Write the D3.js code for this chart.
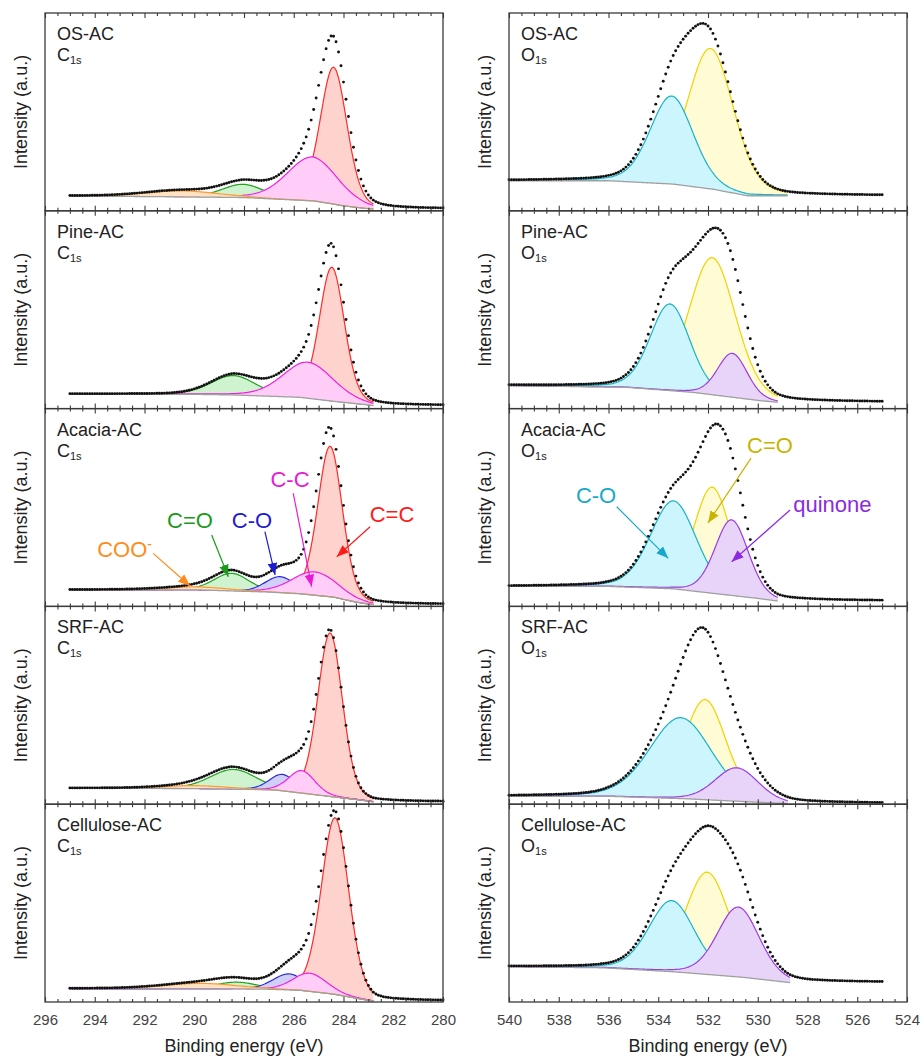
<!DOCTYPE html>
<html>
<head>
<meta charset="utf-8">
<script src="https://cdn.jsdelivr.net/npm/d3@7"></script>
<style>
  body { margin: 0; background: #fff; }
  text { font-family: Arial, "Liberation Sans", sans-serif; }
</style>
</head>
<body>
<svg id="chart" width="921" height="1057"></svg>
<script>
// samples, one row of panels each
const samples = ['OS-AC', 'Pine-AC', 'Acacia-AC', 'SRF-AC', 'Cellulose-AC'];

// C1s fit components, columns: C=C, C-C, C-O, C=O, COO-
// height in % of panel height above the background, fwhm in eV
const c1sNames = ['C=C', 'C-C', 'C-O', 'C=O', 'COO-'];
const c1sCenter = [
  [284.40, 285.25, null,   288.03, 290.50],
  [284.47, 285.42, null,   288.43, null],
  [284.54, 285.15, 286.55, 288.50, 289.80],
  [284.54, 285.68, 286.45, 288.43, 290.00],
  [284.34, 285.35, 286.20, 288.30, 289.77]
];
const c1sHeight = [
  [69.2, 22.2, null, 6.7, 3.0],
  [67.7, 18.2, null, 9.8, null],
  [76.1, 11.8, 8.1,  8.9, 1.5],
  [82.7, 11.4, 8.3,  9.9, 1.5],
  [89.3,  9.2, 8.1,  3.4, 2.7]
];
const c1sFwhm = [
  [1.27, 2.40, null, 2.00, 3.5],
  [1.19, 2.40, null, 2.14, null],
  [1.17, 2.14, 1.40, 1.68, 3.0],
  [1.17, 1.25, 1.25, 2.20, 3.0],
  [1.30, 1.60, 1.50, 2.00, 3.5]
];
// Shirley background knots [eV, %]
const c1sBackground = [
  [[295, 7.5], [290, 7.0], [288, 6.7], [285.2, 5.0], [284.4, 3.4], [284, 2.5], [283.1, 1.2], [282.8, 0.9]],
  [[295, 7.4], [290, 7.2], [288.4, 6.9], [285.75, 5.7], [284.4, 3.7], [283.1, 2.0], [282.8, 1.5]],
  [[295, 8.4], [290, 8.4], [287.1, 7.3], [285.75, 6.4], [284.4, 4.7], [283.5, 2.2], [283, 1.2], [282.8, 1.0]],
  [[295, 8.1], [290, 7.9], [288, 7.6], [286.7, 7.1], [284.4, 3.7], [283.07, 1.7], [282.8, 1.2]],
  [[295, 6.8], [289, 6.7], [287.1, 6.5], [285.75, 5.9], [284.4, 4.0], [283.07, 1.0], [282.8, 0.5]]
];

// O1s fit components, columns: C-O, C=O, quinone
const o1sNames = ['C-O', 'C=O', 'quinone'];
const o1sCenter = [
  [533.46, 531.90, null],
  [533.53, 531.83, 531.02],
  [533.39, 531.83, 531.05],
  [533.10, 532.12, 530.85],
  [533.46, 532.03, 530.78]
];
const o1sHeight = [
  [44.5, 71.0, null],
  [43.8, 69.3, 22.2],
  [44.5, 53.6, 38.2],
  [40.9, 50.6, 16.9],
  [35.9, 51.7, 35.3]
];
const o1sFwhm = [
  [2.05, 2.20, null],
  [1.88, 2.20, 1.41],
  [2.18, 1.75, 1.58],
  [2.95, 2.00, 2.05],
  [2.18, 2.10, 1.98]
];
const o1sBackground = [
  [[540, 15.2], [536, 15.2], [533.4, 13.5], [531.8, 10.9], [530.4, 7.6], [528.8, 7.6]],
  [[540, 11.6], [535.3, 10.8], [532.6, 8.2], [529.9, 4.0], [529.2, 3.2]],
  [[540, 10.1], [536, 10.1], [533.4, 8.9], [529.9, 3.9], [529.2, 2.7]],
  [[540, 4.0], [536, 4.0], [533, 2.8], [530, 1.0], [528.8, 0.3]],
  [[540, 17.8], [536.2, 17.3], [533.4, 15.3], [530.6, 12.5], [528.7, 9.8]]
];

const c1sTicks = [296, 294, 292, 290, 288, 286, 284, 282, 280];
const o1sTicks = [540, 538, 536, 534, 532, 530, 528, 526, 524];

// ---- styles / layout ----
const lineColor = {
  'C=C': '#ff2a2a', 'C-C': '#f020e0', 'C-O': '#2a2ae0', 'C=O': '#22a022', 'COO-': '#ff9a30'
};
const fillColor = {
  'C=C': '#ffd3cd', 'C-C': '#ffcdf8', 'C-O': '#cfcff8', 'C=O': '#cff2cf', 'COO-': '#ffe2c2'
};
const o1sLine = { 'C-O': '#18b2cc', 'C=O': '#f2d200', 'quinone': '#9a3de0' };
const o1sFill = { 'C-O': '#cdf5fd', 'C=O': '#fffbd5', 'quinone': '#e8d4f9' };

const lorentzMix = 0.2;
const panelTop = 13, panelH = 197.8;

const cols = [
  { core: 'C', left: 45, right: 443, domain: [296, 280], data: [295, 280], ticks: c1sTicks,
    names: c1sNames, center: c1sCenter, height: c1sHeight, fwhm: c1sFwhm, bg: c1sBackground,
    order: [0, 3, 2, 1, 4], line: lineColor, fill: fillColor, ylabX: 27 },
  { core: 'O', left: 509, right: 907, domain: [540, 524], data: [540, 525], ticks: o1sTicks,
    names: o1sNames, center: o1sCenter, height: o1sHeight, fwhm: o1sFwhm, bg: o1sBackground,
    order: [1, 0, 2], line: o1sLine, fill: o1sFill, ylabX: 491 }
];

// arrow labels on the Acacia-AC panels, in data coordinates (eV, %)
const notes = [
  [
    { text: 'COO', sup: '-', color: '#ff8c1a', at: [292.8, 25.1], from: [291.65, 26.8], to: [290.17, 10.3] },
    { text: 'C=O', color: '#1a9a1a', at: [290.17, 39.6], from: [289.3, 36.1], to: [288.63, 15.0] },
    { text: 'C-O', color: '#1c1cd0', at: [287.68, 39.6], from: [287.16, 37.8], to: [286.75, 15.9] },
    { text: 'C-C', color: '#e81ad8', at: [286.15, 60.4], from: [286.02, 57.2], to: [285.28, 10.0] },
    { text: 'C=C', color: '#ff1a1a', at: [282.05, 42.7], from: [282.93, 40.3], to: [284.27, 25.1] }
  ],
  [
    { text: 'C=O', color: '#c8b400', at: [529.51, 77.4], from: [530.27, 75.0], to: [532.0, 42.2] },
    { text: 'C-O', color: '#16a8c8', at: [536.5, 52.3], from: [535.67, 50.4], to: [533.6, 24.3] },
    { text: 'quinone', color: '#8a2be2', at: [527.0, 47.7], from: [528.7, 48.7], to: [531.05, 22.6] }
  ]
];

function peak(E, c, h, w) {
  const t = (E - c) / w;
  return h * ((1 - lorentzMix) * Math.exp(-4 * Math.LN2 * t * t) + lorentzMix / (1 + 4 * t * t));
}

const svg = d3.select('#chart');
svg.append('rect').attr('width', 921).attr('height', 1057).attr('fill', '#fff');
const defs = svg.append('defs');

function marker(color) {
  const id = 'arr' + color.slice(1);
  if (defs.select('#' + id).empty()) {
    defs.append('marker')
      .attr('id', id).attr('viewBox', '0 0 10 8')
      .attr('refX', 10).attr('refY', 4)
      .attr('markerUnits', 'userSpaceOnUse')
      .attr('markerWidth', 12).attr('markerHeight', 10)
      .attr('orient', 'auto')
      .append('path').attr('d', 'M0,0L10,4L0,8Z').attr('fill', color);
  }
  return 'url(#' + id + ')';
}

cols.forEach((col, ci) => {
  const x = d3.scaleLinear().domain(col.domain).range([col.left, col.right]);

  samples.forEach((name, i) => {
    const top = panelTop + i * panelH, bottom = top + panelH;
    const y = d3.scaleLinear().domain([0, 100]).range([bottom, top]);
    const g = svg.append('g');

    const knots = col.bg[i];
    const bgAt = d3.scaleLinear()
      .domain(knots.map(k => k[0])).range(knots.map(k => k[1])).clamp(true);
    const e0 = knots[0][0], e1 = knots[knots.length - 1][0];
    const fitE = d3.range(e0, e1, -0.05).concat([e1]);

    const comps = col.order.filter(k => col.center[i][k] != null);

    comps.forEach(k => {
      const c = col.center[i][k], h = col.height[i][k], w = col.fwhm[i][k];
      const nm = col.names[k];
      g.append('path')
        .datum(fitE)
        .attr('fill', col.fill[nm])
        .attr('d', d3.area()
          .x(e => x(e))
          .y0(e => y(bgAt(e)))
          .y1(e => y(bgAt(e) + peak(e, c, h, w))));
      g.append('path')
        .datum(fitE)
        .attr('fill', 'none')
        .attr('stroke', col.line[nm])
        .attr('stroke-width', 1.2)
        .attr('d', d3.line()
          .x(e => x(e))
          .y(e => y(bgAt(e) + peak(e, c, h, w))));
    });

    g.append('path')
      .datum(fitE)
      .attr('fill', 'none')
      .attr('stroke', '#a0a0a0')
      .attr('stroke-width', 1.3)
      .attr('d', d3.line().x(e => x(e)).y(e => y(bgAt(e))));

    // measured spectrum
    const dataE = d3.range(col.data[0], col.data[1] - 0.001, -0.1);
    const envelope = e => bgAt(e) + d3.sum(comps, k =>
      peak(e, col.center[i][k], col.height[i][k], col.fwhm[i][k]));
    g.selectAll('circle.pt')
      .data(dataE)
      .enter()
      .append('circle')
      .attr('cx', e => x(e))
      .attr('cy', e => y(envelope(e)))
      .attr('r', 1.45)
      .attr('fill', '#111');

    // frame
    g.append('rect')
      .attr('x', col.left).attr('y', top)
      .attr('width', col.right - col.left).attr('height', panelH)
      .attr('fill', 'none').attr('stroke', '#3a3a3a').attr('stroke-width', 1.3);

    const minor = d3.range(col.domain[0], col.domain[1] - 0.01, -0.5)
      .filter(v => col.ticks.indexOf(v) < 0);
    const last = i === samples.length - 1;

    const axes = [
      [d3.axisBottom(x).tickValues(col.ticks).tickSize(-5).tickPadding(12)
        .tickFormat(last ? d3.format('d') : ''), bottom],
      [d3.axisBottom(x).tickValues(minor).tickSize(-3).tickFormat(''), bottom],
      [d3.axisTop(x).tickValues(col.ticks).tickSize(-5).tickFormat(''), top],
      [d3.axisTop(x).tickValues(minor).tickSize(-3).tickFormat(''), top]
    ];
    axes.forEach(([ax, yy]) => {
      const a = g.append('g').attr('transform', `translate(0,${yy})`).call(ax);
      a.select('.domain').remove();
      a.selectAll('line').attr('stroke', '#3a3a3a').attr('stroke-width', 1.1);
      a.selectAll('text').attr('font-size', 15).attr('fill', '#444')
        .style('font-family', 'Arial, "Liberation Sans", sans-serif');
    });

    // sample label
    g.append('text')
      .attr('x', col.left + 12).attr('y', top + 27)
      .attr('font-size', 18).attr('fill', '#222')
      .text(name);
    const core = g.append('text')
      .attr('x', col.left + 12).attr('y', top + 48)
      .attr('font-size', 18).attr('fill', '#222')
      .text(col.core);
    core.append('tspan').attr('dy', 3).attr('font-size', 11).text('1s');

    g.append('text')
      .attr('transform', `translate(${col.ylabX},${(top + bottom) / 2}) rotate(-90)`)
      .attr('text-anchor', 'middle')
      .attr('font-size', 18).attr('fill', '#222')
      .text('Intensity (a.u.)');

    if (i === 2) {
      notes[ci].forEach(n => {
        g.append('line')
          .attr('x1', x(n.from[0])).attr('y1', y(n.from[1]))
          .attr('x2', x(n.to[0])).attr('y2', y(n.to[1]))
          .attr('stroke', n.color).attr('stroke-width', 1.2)
          .attr('marker-end', marker(n.color));
        const t = g.append('text')
          .attr('x', x(n.at[0])).attr('y', y(n.at[1]))
          .attr('text-anchor', 'middle')
          .attr('font-size', 22).attr('fill', n.color)
          .text(n.text);
        if (n.sup) t.append('tspan').attr('dy', -8).attr('font-size', 14).text(n.sup);
      });
    }
  });

  svg.append('text')
    .attr('x', (col.left + col.right) / 2).attr('y', 1052)
    .attr('text-anchor', 'middle')
    .attr('font-size', 18).attr('fill', '#222')
    .text('Binding energy (eV)');
});
</script>
</body>
</html>
